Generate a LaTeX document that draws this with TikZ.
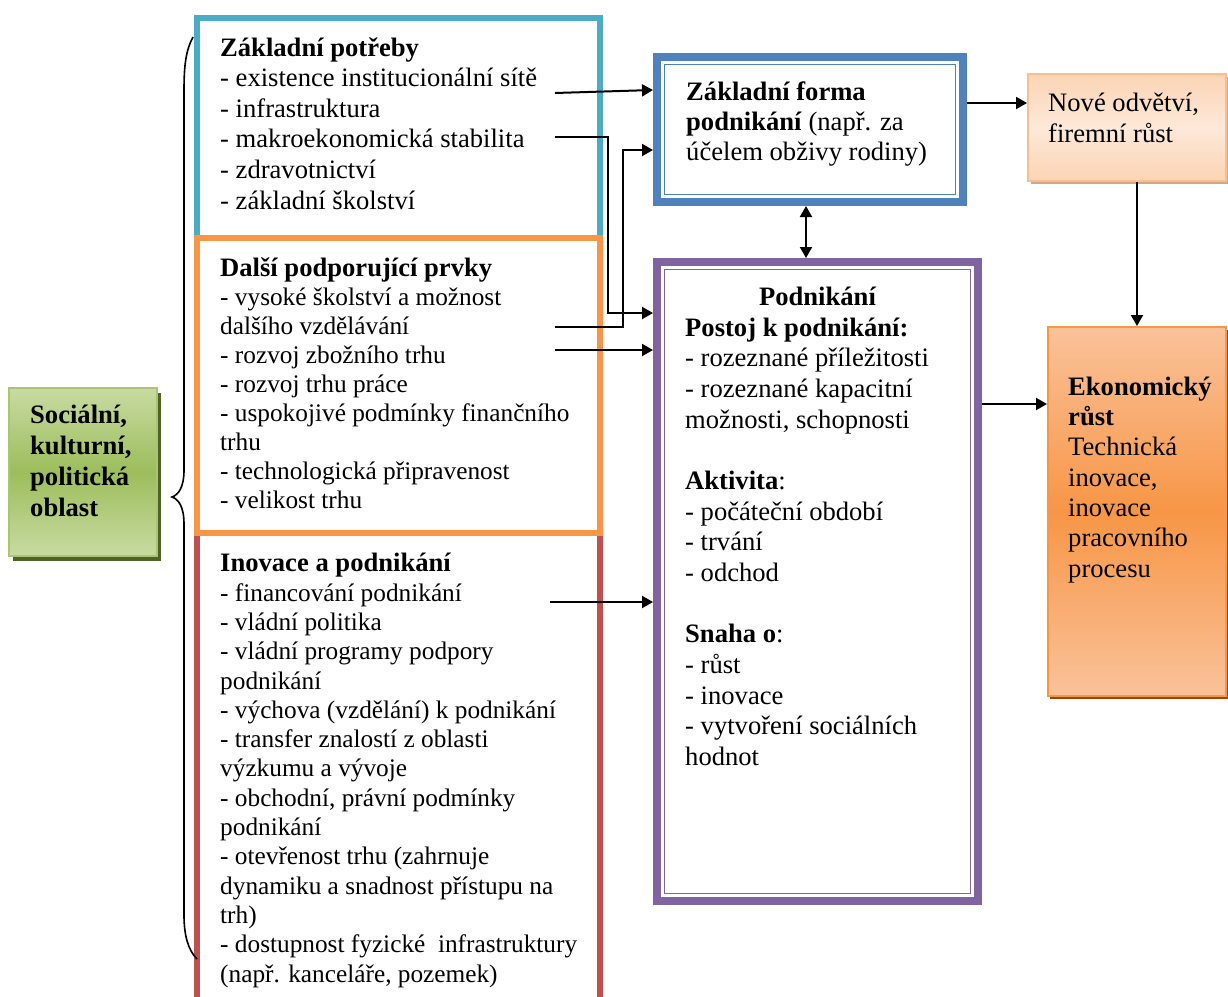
\documentclass[tikz,border=0pt]{standalone}
\usepackage{fontspec}
\setmainfont{Liberation Serif}
\usetikzlibrary{arrows.meta,shadows}
\definecolor{cyanB}{HTML}{4BACC6}
\definecolor{orangeB}{HTML}{F79646}
\definecolor{redB}{HTML}{C0504D}
\definecolor{blueB}{HTML}{4F81BD}
\definecolor{purpleB}{HTML}{8064A2}
\definecolor{greenLight}{HTML}{C8DBA2}
\definecolor{greenMid}{HTML}{9DBD5C}
\definecolor{greenEdge}{HTML}{A9C573}
\definecolor{greenShadow}{HTML}{4F6228}
\definecolor{peachLight}{HTML}{FDE9D9}
\definecolor{peachMid}{HTML}{FBD4B4}
\definecolor{peachEdge}{HTML}{F9BE8F}
\definecolor{peachShadow}{HTML}{CFA887}
\definecolor{ecoLight}{HTML}{FAC29A}
\definecolor{ecoShadow}{HTML}{984807}
\newcommand{\grouphead}[1]{\textbf{\fontsize{26.6}{29}\selectfont #1}}
\begin{document}
\begin{tikzpicture}[x=1pt,y=-1pt,
  frame/.style={rectangle, inner sep=0pt, line width=6pt},
  dframe/.style={rectangle, inner sep=0pt, line width=8pt},
  % text blocks are placed by the baseline of their last line
  txt/.style={anchor=base west, inner sep=0pt, align=left,
              font=\fontsize{26.6}{30.6}\selectfont},
  arr/.style={line width=2pt, -{Triangle[length=11pt,width=12pt]}},
  darr/.style={line width=2pt, {Triangle[length=11pt,width=12pt]}-{Triangle[length=11pt,width=12pt]}}]
\useasboundingbox (0,0) rectangle (1228,996);
\clip (0,0) rectangle (1228,996);

% left column of factor groups
\node[frame, draw=cyanB, minimum width=403pt, minimum height=220pt] (potreby) at (398.5,128) {};
\node[frame, draw=redB, minimum width=403pt, minimum height=477pt] (inovace) at (398.5,771.5) {};
\node[frame, draw=orangeB, minimum width=403pt, minimum height=295pt] (dalsi) at (398.5,385.5) {};

\node[txt] (tpotreby) at (220,209) {\textbf{Základní potřeby}\\
- existence institucionální sítě\\
- infrastruktura\\
- makroekonomická stabilita\\
- zdravotnictví\\
- základní školství};

\node[txt, font=\fontsize{25.3}{28.9}\selectfont] (tdalsi) at (220,508) {\grouphead{Další podporující prvky}\\
- vysoké školství a možnost\\
dalšího vzdělávání\\
- rozvoj zbožního trhu\\
- rozvoj trhu práce\\
- uspokojivé podmínky finančního\\
trhu\\
- technologická připravenost\\
- velikost trhu};

\node[txt, font=\fontsize{25.3}{29.3}\selectfont] (tinovace) at (220,982) {\grouphead{Inovace a podnikání}\\
- financování podnikání\\
- vládní politika\\
- vládní programy podpory\\
podnikání\\
- výchova (vzdělání) k podnikání\\
- transfer znalostí z oblasti\\
výzkumu a vývoje\\
- obchodní, právní podmínky\\
podnikání\\
- otevřenost trhu (zahrnuje\\
dynamiku a snadnost přístupu na\\
trh)\\
- dostupnost fyzické\ \ infrastruktury\\
(např. kanceláře, pozemek)};

% social, cultural and political area
\node[rectangle, inner sep=0pt, line width=2.5pt, draw=greenEdge,
      top color=greenLight, bottom color=greenLight, middle color=greenMid,
      drop shadow={shadow xshift=4pt, shadow yshift=-5pt, fill=greenShadow, opacity=1},
      minimum width=148pt, minimum height=168pt] (oblast) at (83,472) {};
\node[txt, font=\fontsize{26.6}{31}\selectfont\bfseries] (toblast) at (30,516)
  {Sociální,\\kulturní,\\politická\\oblast};

% brace grouping the three factor groups
\draw[line width=1.6pt] (193,37) .. controls (186,50) and (184,65) .. (184,90)
  -- (184,470) .. controls (184,488) and (178,495) .. (172,497)
  .. controls (178,499) and (184,506) .. (184,524)
  -- (184,915) .. controls (184,935) and (188,950) .. (197,959);

% basic form of entrepreneurship
\node[dframe, draw=blueB, minimum width=306pt, minimum height=145pt] (forma) at (810,129.5) {};
\draw[blueB, line width=1.5pt] ([shift={(11.5pt,-11.5pt)}]forma.north west)
  rectangle ([shift={(-11.5pt,11.5pt)}]forma.south east);
\node[txt, font=\fontsize{26.6}{30}\selectfont] (tforma) at (686,160)
  {\textbf{Základní forma}\\
   \textbf{podnikání} (např. za\\
   účelem obživy rodiny)};

% entrepreneurship
\node[dframe, draw=purpleB, minimum width=321pt, minimum height=639pt] (podnik) at (817.5,581.5) {};
\draw[purpleB, line width=1.5pt] ([shift={(11.5pt,-11.5pt)}]podnik.north west)
  rectangle ([shift={(-11.5pt,11.5pt)}]podnik.south east);
\node[anchor=base, inner sep=0pt, font=\fontsize{26.6}{30.6}\selectfont\bfseries]
  (tpodnikhead) at (817.5,305) {Podnikání};
\node[txt, font=\fontsize{26.6}{30.67}\selectfont] (tpodnik) at (685,765.4)
  {\textbf{Postoj k podnikání:}\\
   - rozeznané příležitosti\\
   - rozeznané kapacitní\\
   možnosti, schopnosti\\[30.67pt]
   \textbf{Aktivita}:\\
   - počáteční období\\
   - trvání\\
   - odchod\\[30.67pt]
   \textbf{Snaha o}:\\
   - růst\\
   - inovace\\
   - vytvoření sociálních\\
   hodnot};

% new industry, firm growth
\node[rectangle, inner sep=0pt, line width=2pt, draw=peachEdge,
      top color=peachMid, bottom color=peachMid, middle color=peachLight,
      drop shadow={shadow xshift=3pt, shadow yshift=-3pt, fill=peachShadow, opacity=1},
      minimum width=198pt, minimum height=107pt] (nove) at (1127,127.5) {};
\node[txt, font=\fontsize{26.6}{31}\selectfont] (tnove) at (1048,142)
  {Nové odvětví,\\firemní růst};

% economic growth
\node[rectangle, inner sep=0pt, line width=2pt, draw=orangeB,
      top color=ecoLight, bottom color=ecoLight, middle color=orangeB,
      drop shadow={shadow xshift=2pt, shadow yshift=-3pt, fill=ecoShadow, opacity=1},
      minimum width=178pt, minimum height=369pt] (ekon) at (1137,511.5) {};
\node[txt, font=\fontsize{26.6}{30.3}\selectfont] (tekon) at (1068,577)
  {\textbf{Ekonomický}\\
   \textbf{růst}\\
   Technická\\
   inovace,\\
   inovace\\
   pracovního\\
   procesu};

% connectors
\coordinate (s1) at (555,93);
\coordinate (s2) at (555,137);
\coordinate (s3) at (555,327);
\coordinate (s4) at (555,350);
\coordinate (s5) at (550,602);

\draw[arr] (s1) -- ([yshift=39.5pt]forma.west);
\draw[arr] (s2) -| ([xshift=-45pt,yshift=268.5pt]podnik.west) -- ([yshift=268.5pt]podnik.west);
\draw[arr] (s3) -| ([xshift=-30pt,yshift=-20.5pt]forma.west) -- ([yshift=-20.5pt]forma.west);
\draw[arr] (s4) -- ([yshift=231.5pt]podnik.west);
\draw[arr] (s5) -- ([yshift=-20.5pt]podnik.west);
\draw[darr] ([xshift=-4pt]forma.south) -- ([xshift=-4pt]forma.south |- podnik.north);
\draw[arr] ([yshift=26.5pt]forma.east) -- ([yshift=26.5pt]forma.east -| nove.west);
\draw[arr] ([xshift=10pt]nove.south) -- ([xshift=10pt]nove.south |- ekon.north);
\draw[arr] ([yshift=177.5pt]podnik.east) -- ([yshift=177.5pt]podnik.east -| ekon.west);
\end{tikzpicture}
\end{document}
